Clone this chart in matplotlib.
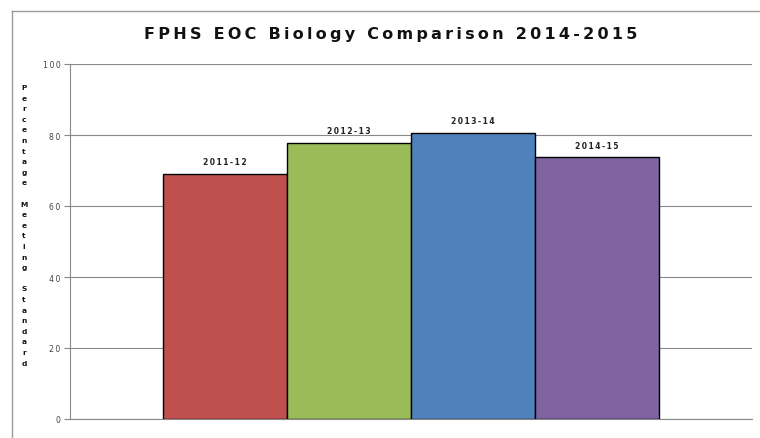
import matplotlib
matplotlib.use("Agg")
import matplotlib.pyplot as plt
from matplotlib.lines import Line2D

# data
years = ["2011-12", "2012-13", "2013-14", "2014-15"]
pct = [69.0, 77.7, 80.5, 73.7]
colors = ["#c0504d", "#9bbb59", "#4f81bd", "#8064a2"]
yticks = [0, 20, 40, 60, 80, 100]
title = "FPHS EOC Biology Comparison 2014-2015"
ylabel_words = ["Percentage", "Meeting", "Standard"]


def spaced(s, sep="\u2009"):
    return sep.join(s)


fig = plt.figure(figsize=(7.6, 4.39), dpi=100)
ax = fig.add_axes([70 / 760, 19 / 439, 682 / 760, 355 / 439])

n = len(years)
xs = [i - (n - 1) / 2 for i in range(n)]
ax.bar(xs, pct, width=1.0, color=colors, edgecolor="black", linewidth=1.0, zorder=3)
for x, v, lab in zip(xs, pct, years):
    ax.text(x, v + 2.2, spaced(lab), ha="center", va="bottom", fontsize=5.5,
            fontweight="bold", color="#222222", zorder=4)

ax.set_xlim(-2.75, 2.75)
ax.set_ylim(0, 100)
ax.set_yticks(yticks)
ax.set_yticklabels([spaced(str(t)) for t in yticks], fontsize=5.6, color="#444444")
ax.tick_params(axis="y", length=4, width=0.8, color="#888888", pad=3)
ax.set_xticks([])
ax.grid(axis="y", color="#888888", linewidth=0.8, zorder=0)
ax.axhline(0, color="#888888", linewidth=0.8, zorder=2, clip_on=False)
for s in ["top", "right", "bottom"]:
    ax.spines[s].set_visible(False)
ax.spines["left"].set_color("#888888")
ax.spines["left"].set_linewidth(0.8)

fig.text(391 / 760, 1 - 34 / 439, spaced(title), ha="center", va="center",
         fontsize=11.5, fontweight="bold", color="#111111")

ylab = "\n\n".join("\n".join(w) for w in ylabel_words)
fig.text(24 / 760, 1 - 85 / 439, ylab, ha="center", va="top", fontsize=5.3,
         fontweight="bold", linespacing=1.92, color="#111111")

# outer chart border (left and top)
fig.add_artist(Line2D([12 / 760, 12 / 760], [0, 1 - 12 / 439], transform=fig.transFigure,
                      color="#999999", linewidth=1.0))
fig.add_artist(Line2D([12 / 760, 1], [1 - 12 / 439, 1 - 12 / 439], transform=fig.transFigure,
                      color="#999999", linewidth=1.0))

fig.savefig("out.png", dpi=100)
